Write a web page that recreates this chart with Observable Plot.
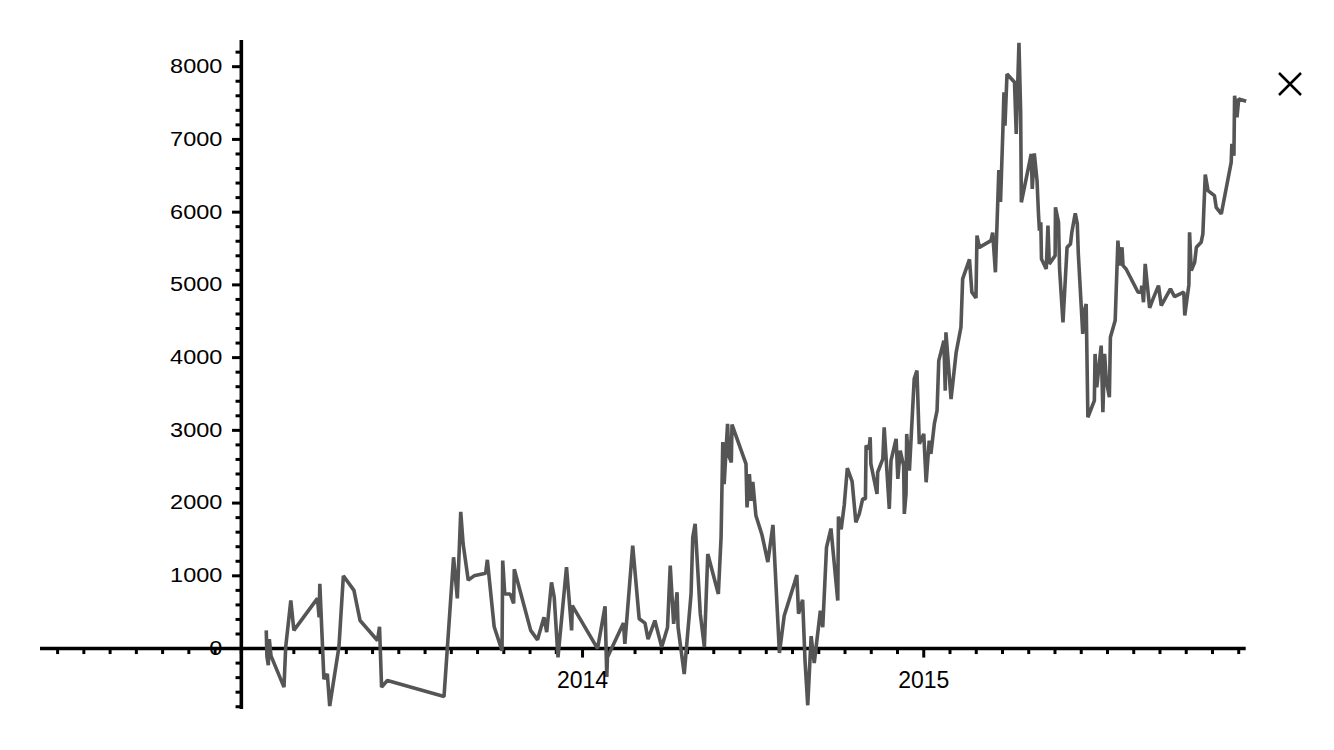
<!DOCTYPE html>
<html><head><meta charset="utf-8">
<script src="https://cdn.jsdelivr.net/npm/d3@7"></script>
<script src="https://cdn.jsdelivr.net/npm/@observablehq/plot@0.6"></script>
<style>
html,body{margin:0;padding:0;background:#fff;}
#chart{position:relative;width:1334px;height:750px;overflow:hidden;}
#mark{position:absolute;left:1277px;top:71px;}
</style></head><body><div id="chart"></div>
<script>
// series as [decimal year, value]
const series2013 = [
 [2013.073,250],[2013.075,-110],[2013.079,-230],[2013.082,130],[2013.087,-100],[2013.125,-530],[2013.130,20],[2013.145,660],[2013.154,250],[2013.223,690],
 [2013.228,430],[2013.230,890],[2013.242,-420],[2013.252,-350],[2013.259,-790],[2013.286,20],[2013.299,1000],[2013.330,800],[2013.348,385],[2013.399,110],
 [2013.405,300],[2013.411,-530],[2013.428,-440],[2013.594,-660],[2013.622,1255],[2013.633,690],[2013.643,1880],[2013.650,1440],[2013.665,940],[2013.682,1000],
 [2013.716,1035],[2013.721,1220],[2013.741,300],[2013.764,-30],[2013.766,1210],[2013.772,750],[2013.788,750],[2013.798,620],[2013.800,1090],[2013.848,250],
 [2013.868,120],[2013.887,430],[2013.895,225],[2013.909,910],[2013.917,705],[2013.928,-120],[2013.953,1120],[2013.968,250],[2013.970,590]
];
const series2014 = [
 [2014.044,0],[2014.066,580],[2014.071,-390],[2014.073,-120],[2014.120,350],[2014.124,65],[2014.147,1416],[2014.166,410],[2014.183,350],[2014.192,130],
 [2014.212,385],[2014.232,20],[2014.249,290],[2014.257,1140],[2014.267,340],[2014.277,775],[2014.280,290],[2014.298,-350],[2014.318,750],[2014.323,1530],
 [2014.330,1715],[2014.345,480],[2014.357,20],[2014.367,1300],[2014.398,750],[2014.406,1530],[2014.411,2840],[2014.415,2260],[2014.425,3090],[2014.429,2650],
 [2014.436,2560],[2014.438,3080],[2014.479,2540],[2014.482,1940],[2014.489,2400],[2014.494,2030],[2014.499,2290],[2014.508,1830],[2014.526,1560],[2014.543,1190],
 [2014.558,1700],[2014.577,-60],[2014.591,450],[2014.621,900],[2014.628,1010],[2014.633,480],[2014.645,670],[2014.652,-165],[2014.660,-780],[2014.670,170],
 [2014.679,-200],[2014.697,520],[2014.704,293],[2014.715,1390],[2014.728,1650],[2014.748,660],[2014.750,1815],[2014.758,1640],[2014.767,1975],[2014.776,2480],
 [2014.790,2300],[2014.801,1736],[2014.811,1851],[2014.821,2058],[2014.829,2058],[2014.831,2790],[2014.840,2745],[2014.843,2905],[2014.845,2540],[2014.863,2127],
 [2014.865,2424],[2014.880,2608],[2014.884,3042],[2014.899,1920],[2014.904,2584],[2014.919,2882],[2014.924,2333],[2014.931,2722],[2014.941,2516],[2014.943,1851],
 [2014.948,2127],[2014.950,2951],[2014.958,2447],[2014.972,3707],[2014.980,3821],[2014.987,2814]
];
const series2015 = [
 [2015.000,2951],[2015.007,2286],[2015.016,2859],[2015.021,2676],[2015.031,3088],[2015.039,3271],[2015.044,3959],[2015.059,4234],[2015.063,3546],[2015.065,4348],
 [2015.080,3430],[2015.095,4073],[2015.109,4417],[2015.114,5082],[2015.134,5350],[2015.141,4900],[2015.153,4820],[2015.156,5677],[2015.163,5516],[2015.197,5608],
 [2015.202,5720],[2015.210,5173],[2015.220,6580],[2015.225,6140],[2015.232,7144],[2015.235,7647],[2015.238,7189],[2015.244,7900],[2015.266,7785],[2015.271,7075],
 [2015.279,8330],[2015.284,7372],[2015.286,6135],[2015.315,6800],[2015.318,6319],[2015.324,6809],[2015.332,6433],[2015.336,5998],[2015.339,5746],[2015.343,5860],
 [2015.345,5357],[2015.359,5219],[2015.364,5814],[2015.368,5288],[2015.385,5402],[2015.386,6066],[2015.395,5860],[2015.398,5219],[2015.408,4485],[2015.420,5516],
 [2015.430,5562],[2015.434,5723],[2015.444,5984],[2015.450,5838],[2015.453,5425],[2015.466,4326],[2015.471,4646],[2015.476,4738],[2015.481,3180],[2015.500,3409],
 [2015.502,4051],[2015.507,3592],[2015.520,4165],[2015.525,3248],[2015.530,4051],[2015.535,3684],[2015.544,3455],[2015.547,4279],[2015.561,4509],[2015.569,5608],
 [2015.574,5265],[2015.581,5516],[2015.584,5265],[2015.593,5219],[2015.628,4898],[2015.637,4898],[2015.639,4990],[2015.644,4761],[2015.649,5288],[2015.662,4683],
 [2015.672,4807],[2015.688,4990],[2015.696,4715],[2015.723,4945],[2015.735,4839],[2015.762,4900],[2015.765,4580],[2015.777,5000],[2015.779,5723],[2015.784,5196],
 [2015.794,5310],[2015.799,5516],[2015.813,5585],[2015.818,5700],[2015.825,6516],[2015.833,6296],[2015.852,6227],[2015.857,6066],[2015.872,5975],[2015.901,6685],
 [2015.903,6938],[2015.909,6777],[2015.911,7601],[2015.918,7303],[2015.923,7556],[2015.945,7524]
];
const xLabelTicks = [2014, 2015];
const yLabelTicks = [0, 1000, 2000, 3000, 4000, 5000, 6000, 7000, 8000];
const xDomain = [2012.4114, 2015.945];
const yDomain = [-838, 8360];
const yAxisAt = 2013;   // where the vertical axis crosses
const xMinorPerYear = 13;
const yMinorStep = 200;

const data = [...series2013, ...series2014, ...series2015].map(([t, v]) => ({t, v}));
const xMinor = d3.range(-20, 60).map(k => yAxisAt + k / xMinorPerYear)
  .filter(t => t >= xDomain[0] && t <= xDomain[1] + 1e-9 && !xLabelTicks.some(m => Math.abs(m - t) < 1e-6));
const yMinor = d3.range(-4000, 9000, yMinorStep)
  .filter(v => v >= yDomain[0] && v <= yDomain[1] && v % 1000 !== 0);

const font = '"Liberation Sans", Arial, Helvetica, sans-serif';
const chart = Plot.plot({
  width: 1334, height: 750,
  marginLeft: 40, marginRight: 88.3, marginTop: 40, marginBottom: 41,
  x: {domain: xDomain, axis: null},
  y: {domain: yDomain, axis: null},
  style: {fontFamily: font, fontSize: "22px", background: "white", color: "black"},
  marks: [
    Plot.ruleX(xMinor, {x: d => d, y1: 0, y2: 0, insetBottom: -6, stroke: "black", strokeWidth: 3}),
    Plot.ruleX(xLabelTicks, {x: d => d, y1: 0, y2: 0, insetBottom: -9.5, stroke: "black", strokeWidth: 3}),
    Plot.ruleY(yMinor, {y: d => d, x1: yAxisAt, x2: yAxisAt, insetLeft: -5.3, stroke: "black", strokeWidth: 3}),
    Plot.ruleY(yLabelTicks, {y: d => d, x1: yAxisAt, x2: yAxisAt, insetLeft: -8.8, stroke: "black", strokeWidth: 3}),
    Plot.ruleY([0], {x1: xDomain[0], x2: xDomain[1], stroke: "black", strokeWidth: 3.6}),
    Plot.ruleX([yAxisAt], {y1: yDomain[0], y2: yDomain[1], stroke: "black", strokeWidth: 3.6}),
    Plot.line(data, {x: "t", y: "v", stroke: "#555555", strokeWidth: 3.6, strokeLinejoin: "miter", strokeLinecap: "butt"}),
    Plot.text(yLabelTicks, {x: yAxisAt, y: d => d, text: d => String(d), textAnchor: "end", dx: -19, fontSize: 20, fill: "black"}),
    Plot.text(xLabelTicks, {x: d => d, y: 0, text: d => String(d), dy: 32, fontSize: 23, fill: "black"})
  ]
});
const root = document.getElementById("chart");
root.appendChild(chart);
// the reference's y tick labels are drawn horizontally wider than the font's natural width
const textGroups = chart.querySelectorAll('g[aria-label="text"]');
if (textGroups.length) {
  textGroups[0].querySelectorAll("text").forEach(t => {
    const w = t.getComputedTextLength();
    t.setAttribute("textLength", (w * 1.175).toFixed(2));
    t.setAttribute("lengthAdjust", "spacingAndGlyphs");
  });
}
const ns = "http://www.w3.org/2000/svg";
const m = document.createElementNS(ns, "svg");
m.setAttribute("id", "mark"); m.setAttribute("width", "26"); m.setAttribute("height", "26");
m.innerHTML = '<path d="M2,2L24,24M24,2L2,24" stroke="black" stroke-width="2.5" fill="none"/>';
root.appendChild(m);
</script></body></html>
